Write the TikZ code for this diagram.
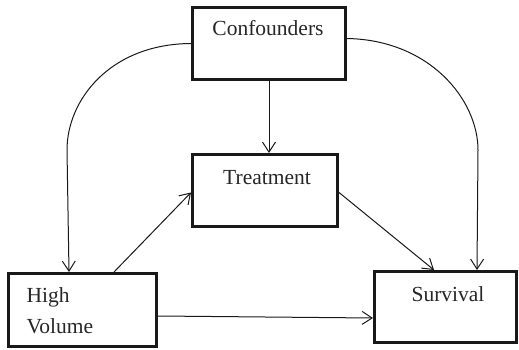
\documentclass[tikz,border=0pt]{standalone}
\usepackage{fontspec}
\setmainfont{Liberation Serif}
\usetikzlibrary{arrows.meta,calc}
\begin{document}
\begin{tikzpicture}[x=1pt,y=-1pt,
  box/.style={draw=black!90, line width=3pt, rectangle, inner sep=0pt},
  lab/.style={anchor=base, font=\fontsize{21.5}{24}\selectfont, text=black!85},
  conn/.style={draw=black!90, line width=1pt, -{Straight Barb[length=10pt,width=13pt]}}]
\useasboundingbox (0,0) rectangle (519,350);
\node[box, minimum width=153, minimum height=72] (conf) at (269,43.5) {};
\node[box, minimum width=145, minimum height=72] (treat) at (265,190.5) {};
\node[box, minimum width=148, minimum height=73] (hv) at (82.5,310) {};
\node[box, minimum width=142, minimum height=71] (surv) at (445.5,307) {};
\node[lab] (tconf) at (268,36) {Confounders};
\node[lab] (ttreat) at (267,184) {Treatment};
\node[lab, anchor=base west] (thigh) at (23,302) {High};
\node[lab, anchor=base west] (tvol) at (23,333) {Volume};
\node[lab] (tsurv) at (448,301) {Survival};
\draw[conn] (conf.south) -- (conf.south |- treat.north);
\draw[conn] (conf.west) .. controls (110,44) and (67,100) .. (67,150) -- ($(hv.north west)+(62,0)$);
\draw[conn] ($(conf.east)+(0,-5)$) .. controls (430,40) and (478,100) .. (478,150) -- ($(surv.north west)+(104,0)$);
\draw[conn] ($(hv.north west)+(107,0)$) -- ($(treat.west)+(0,2)$);
\draw[conn] ($(treat.east)+(0,2)$) -- ($(surv.north west)+(61,0)$);
\draw[conn] ($(hv.east)+(0,6)$) -- ($(surv.west)+(0,11)$);
\end{tikzpicture}
\end{document}
